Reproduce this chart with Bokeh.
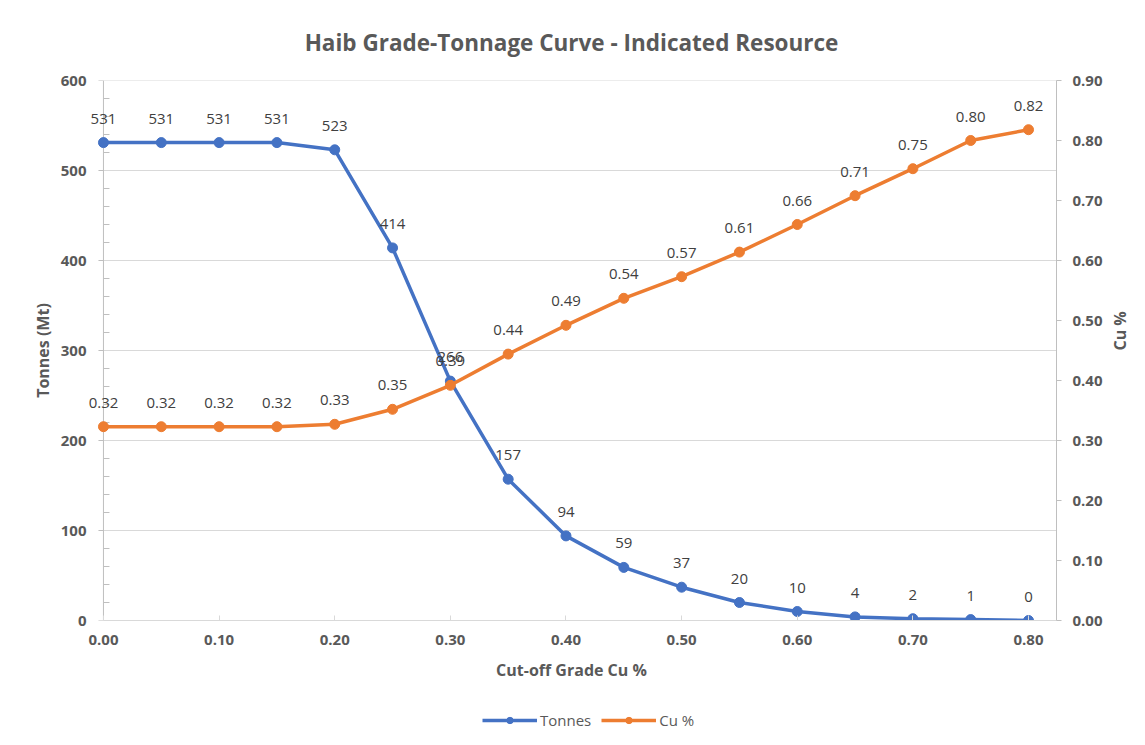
import math
from bokeh.plotting import figure
from bokeh.layouts import column
from bokeh.models import (Range1d, LinearAxis, Legend, LegendItem, ColumnDataSource,
                          FixedTicker, NumeralTickFormatter, LabelSet)
from bokeh.embed import file_html
from bokeh.resources import INLINE
from bokeh.core.properties import value

# ---- data ----
cutoff = [0.00, 0.05, 0.10, 0.15, 0.20, 0.25, 0.30, 0.35, 0.40, 0.45,
          0.50, 0.55, 0.60, 0.65, 0.70, 0.75, 0.80]
tonnes = [531, 531, 531, 531, 523, 414, 266, 157, 94, 59, 37, 20, 10, 4, 2, 1, 0]
cu_grade = [0.323, 0.323, 0.323, 0.323, 0.327, 0.352, 0.392, 0.444, 0.492, 0.537,
            0.573, 0.614, 0.660, 0.708, 0.753, 0.800, 0.818]
x_ticks = [0.0, 0.1, 0.2, 0.3, 0.4, 0.5, 0.6, 0.7, 0.8]
left_ticks = [0, 100, 200, 300, 400, 500, 600]
left_minor = [20, 40, 60, 80, 120, 140, 160, 180, 220, 240, 260, 280,
              320, 340, 360, 380, 420, 440, 460, 480, 520, 540, 560, 580]
right_ticks = [0.0, 0.1, 0.2, 0.3, 0.4, 0.5, 0.6, 0.7, 0.8, 0.9]

title_text = "Haib Grade-Tonnage Curve - Indicated Resource"
x_label = "Cut-off Grade Cu %"
y_label = "Tonnes (Mt)"
y2_label = "Cu %"

BLUE = "#4472C4"
ORANGE = "#ED7D31"
AXIS = "#bfbfbf"
GRID = "#d9d9d9"
TICKTXT = "#595959"
DATATXT = "#404040"
FONT = "Open Sans"
TICK_FS = "15px"
LABEL_FS = "16px"
DATA_FS = "15px"

X_START, X_END = -0.01467, 0.8242

src = ColumnDataSource(dict(
    x=cutoff, t=tonnes, c=cu_grade,
    tl=[str(v) for v in tonnes],
    cl=[f"{v:.2f}" for v in cu_grade],
))

p = figure(width=1144, height=690, x_range=Range1d(X_START, X_END),
           y_range=Range1d(left_ticks[0], left_ticks[-1]), output_backend="svg",
           toolbar_location=None,
           min_border_left=86, min_border_right=86, min_border_top=80, min_border_bottom=70)
p.outline_line_color = None
p.background_fill_color = "white"
p.border_fill_color = "white"

# title
p.title.text = title_text
p.title.align = "center"
p.title.text_font = FONT
p.title.text_font_size = "22.5px"
p.title.text_font_style = "bold"
p.title.text_color = TICKTXT
p.title.standoff = 46

# grid lines (from the left tick values, spanning x = 0 .. right axis)
p.xgrid.visible = False
p.ygrid.visible = False
p.segment(x0=[0] * (len(left_ticks) - 1), x1=[X_END] * (len(left_ticks) - 1),
          y0=left_ticks[1:], y1=left_ticks[1:], line_color=GRID, line_width=1, level="underlay")

# left value-axis line and tick marks at x = 0
p.segment(x0=[0], x1=[0], y0=[left_ticks[0]], y1=[left_ticks[-1]], line_color=AXIS,
          line_width=1, level="underlay")
p.ray(x=[0] * len(left_ticks), y=left_ticks, length=5, length_units="screen",
      angle=math.pi, line_color=AXIS, line_width=1, level="underlay")
p.ray(x=[0] * len(left_minor), y=left_minor, length=6, length_units="screen",
      angle=0, line_color=AXIS, line_width=1, level="underlay")

# x axis
xa = p.xaxis[0]
xa.ticker = FixedTicker(ticks=x_ticks)
xa.formatter = NumeralTickFormatter(format="0.00")
xa.bounds = (0, X_END)
xa.axis_line_color = GRID
xa.major_tick_line_color = GRID
xa.major_tick_in = 5
xa.major_tick_out = 0
xa.minor_tick_line_color = None
xa.major_label_standoff = 14
xa.major_label_text_font = FONT
xa.major_label_text_font_size = TICK_FS
xa.major_label_text_font_style = "bold"
xa.major_label_text_color = TICKTXT
xa.axis_label = x_label
xa.axis_label_text_font = FONT
xa.axis_label_text_font_size = LABEL_FS
xa.axis_label_text_font_style = "bold"
xa.axis_label_text_color = TICKTXT
xa.axis_label_standoff = 11

# left axis (labels only; line and ticks drawn at x = 0 above)
ya = p.yaxis[0]
ya.ticker = FixedTicker(ticks=left_ticks)
ya.axis_line_color = None
ya.major_tick_line_color = None
ya.minor_tick_line_color = None
ya.major_tick_in = 0
ya.major_tick_out = 0
ya.major_label_standoff = 0
ya.major_label_text_font = FONT
ya.major_label_text_font_size = TICK_FS
ya.major_label_text_font_style = "bold"
ya.major_label_text_color = TICKTXT
ya.axis_label = y_label
ya.axis_label_text_font = FONT
ya.axis_label_text_font_size = LABEL_FS
ya.axis_label_text_font_style = "bold"
ya.axis_label_text_color = TICKTXT
ya.axis_label_standoff = 4

# right axis
p.extra_y_ranges = {"cu": Range1d(right_ticks[0], right_ticks[-1])}
ra = LinearAxis(y_range_name="cu", ticker=FixedTicker(ticks=right_ticks),
                formatter=NumeralTickFormatter(format="0.00"))
ra.axis_line_color = AXIS
ra.major_tick_line_color = AXIS
ra.major_tick_in = 0
ra.major_tick_out = 5
ra.minor_tick_line_color = None
ra.major_label_standoff = 11
ra.major_label_text_font = FONT
ra.major_label_text_font_size = TICK_FS
ra.major_label_text_font_style = "bold"
ra.major_label_text_color = TICKTXT
ra.axis_label = y2_label
ra.axis_label_orientation = math.pi / 2
ra.axis_label_text_font = FONT
ra.axis_label_text_font_size = LABEL_FS
ra.axis_label_text_font_style = "bold"
ra.axis_label_text_color = TICKTXT
ra.axis_label_standoff = 14
p.add_layout(ra, "right")

# series
p.line("x", "t", source=src, color=BLUE, line_width=3.5)
p.scatter("x", "t", source=src, color=BLUE, size=10)
p.line("x", "c", source=src, color=ORANGE, line_width=3.5, y_range_name="cu")
p.scatter("x", "c", source=src, color=ORANGE, size=10, y_range_name="cu")

for col, txt, rng in (("t", "tl", "default"), ("c", "cl", "cu")):
    p.add_layout(LabelSet(x="x", y=col, text=txt, source=src, y_offset=24,
                          text_align="center", text_baseline="middle",
                          text_font=value(FONT), text_font_size=DATA_FS,
                          text_color=DATATXT, y_range_name=rng))

# legend strip below the chart
lf = figure(width=1144, height=55, x_range=Range1d(10, 11), y_range=Range1d(10, 11),
            output_backend="svg", toolbar_location=None, min_border=0)
lf.axis.visible = False
lf.grid.visible = False
lf.outline_line_color = None
g1 = lf.line("x", "t", source=src, color=BLUE, line_width=3.5)
g2 = lf.scatter("x", "t", source=src, color=BLUE, size=10)
g3 = lf.line("x", "c", source=src, color=ORANGE, line_width=3.5)
g4 = lf.scatter("x", "c", source=src, color=ORANGE, size=10)
legend = Legend(items=[LegendItem(label="Tonnes", renderers=[g1, g2]),
                       LegendItem(label="Cu %", renderers=[g3, g4])],
                orientation="horizontal", location=(396, 15))
legend.border_line_color = None
legend.background_fill_alpha = 0
legend.label_text_font = FONT
legend.label_text_font_size = "15px"
legend.label_text_color = TICKTXT
legend.glyph_width = 55
legend.glyph_height = 16
legend.label_standoff = 3
legend.spacing = 10
legend.margin = 0
legend.padding = 4
lf.add_layout(legend, "center")

layout = column(p, lf, spacing=0)
open("out.html", "w").write(file_html(layout, INLINE))
